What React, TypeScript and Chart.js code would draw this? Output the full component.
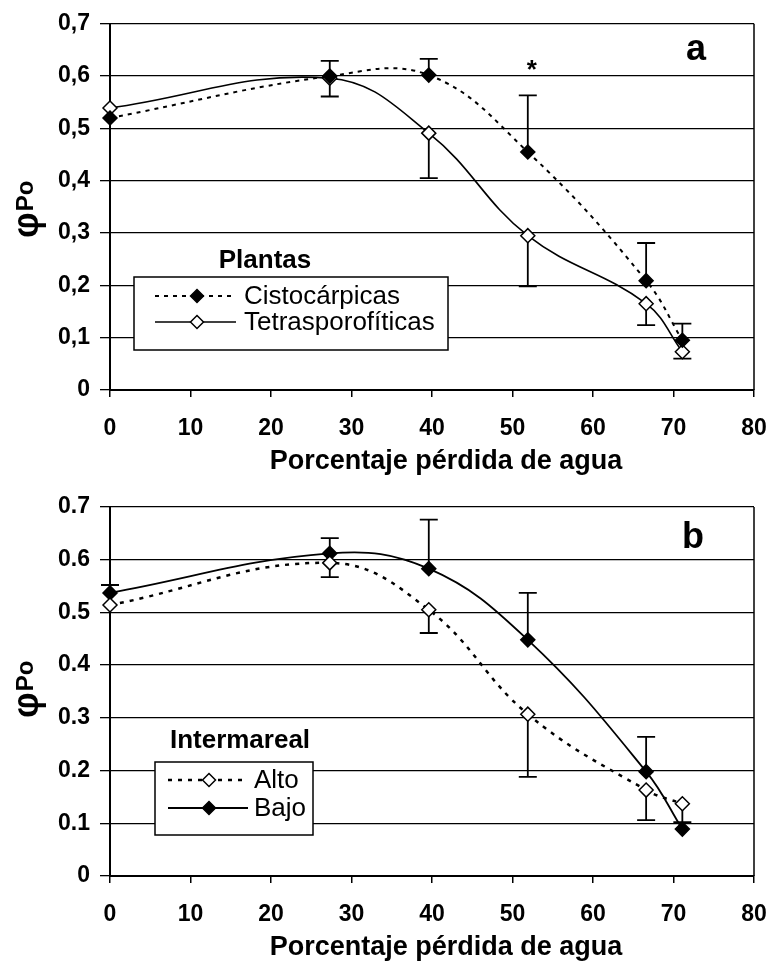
import React, { useEffect, useRef } from 'react';
import { Chart, registerables } from 'chart.js';

Chart.register(...registerables);

// ---------- data ----------
const xValues = [0, 27.3, 39.6, 51.9, 66.6, 71.1];

const cistoValues = [0.52, 0.6, 0.602, 0.455, 0.209, 0.095];
const cistoErr = [0, 0.029, 0.031, 0.108, 0.072, 0.032];
const tetraValues = [0.539, 0.596, 0.491, 0.295, 0.165, 0.073];
const tetraErr = [0, 0.035, 0.086, 0.097, 0.041, 0.013];

const altoValues = [0.514, 0.594, 0.505, 0.307, 0.163, 0.137];
const altoErr = [0, 0.027, 0.044, 0.119, 0.057, 0.035];
const bajoValues = [0.537, 0.612, 0.583, 0.448, 0.198, 0.089];
const bajoErr = [0.015, 0.029, 0.093, 0.089, 0.066, 0];

const xTicks = [0, 10, 20, 30, 40, 50, 60, 70, 80];
const yTicks = [0, 0.1, 0.2, 0.3, 0.4, 0.5, 0.6, 0.7];
const yLabelsA = ['0', '0,1', '0,2', '0,3', '0,4', '0,5', '0,6', '0,7'];
const yLabelsB = ['0', '0.1', '0.2', '0.3', '0.4', '0.5', '0.6', '0.7'];

const xTitle = 'Porcentaje pérdida de agua';
const legendTitleA = 'Plantas';
const legendTitleB = 'Intermareal';
const panelA = 'a';
const panelB = 'b';
const starX = 52.4;
const starY = 0.625;

const FONT = 'Arial, "Liberation Sans", sans-serif';

type Series = {
  label: string;
  values: number[];
  err: number[];
  dir: 'up' | 'down';
  filled: boolean;
  dash: number[];
  width: number;
};

function drawDiamond(ctx: CanvasRenderingContext2D, x: number, y: number, r: number, filled: boolean) {
  ctx.save();
  ctx.setLineDash([]);
  ctx.beginPath();
  ctx.moveTo(x, y - r);
  ctx.lineTo(x + r, y);
  ctx.lineTo(x, y + r);
  ctx.lineTo(x - r, y);
  ctx.closePath();
  ctx.fillStyle = filled ? '#000' : '#fff';
  ctx.fill();
  ctx.lineWidth = 1.5;
  ctx.strokeStyle = '#000';
  ctx.stroke();
  ctx.restore();
}

const errorBarPlugin = {
  id: 'errbars',
  beforeDatasetsDraw(chart: any) {
    const ctx = chart.ctx as CanvasRenderingContext2D;
    const ys = chart.scales.y;
    chart.data.datasets.forEach((ds: any, di: number) => {
      const meta = chart.getDatasetMeta(di);
      (ds.errors as number[]).forEach((e, i) => {
        if (!e) return;
        const pt = meta.data[i];
        const v = ds.data[i].y;
        const end = ds.errDir === 'up' ? v + e : v - e;
        const py = ys.getPixelForValue(end);
        ctx.save();
        ctx.setLineDash([]);
        ctx.strokeStyle = '#000';
        ctx.lineWidth = 1.8;
        ctx.beginPath();
        ctx.moveTo(pt.x, pt.y);
        ctx.lineTo(pt.x, py);
        ctx.moveTo(pt.x - 9, py);
        ctx.lineTo(pt.x + 9, py);
        ctx.stroke();
        ctx.restore();
      });
    });
  },
};

const framePlugin = {
  id: 'frame',
  beforeDatasetsDraw(chart: any) {
    const { ctx, chartArea } = chart;
    ctx.save();
    ctx.strokeStyle = '#000';
    ctx.lineWidth = 1.5;
    ctx.beginPath();
    ctx.moveTo(chartArea.right, chartArea.top);
    ctx.lineTo(chartArea.right, chartArea.bottom);
    ctx.stroke();
    ctx.restore();
  },
};

type Params = {
  series: Series[];
  yLabels: string[];
  areaTop: number;
  xAxisHeight: number;
  titleY: number;
  height: number;
  legend: {
    box: [number, number, number, number];
    title: string;
    titleX: number;
    titleY: number;
    rows: number[];
    lineX0: number;
    lineX1: number;
    markX: number;
    textX: number;
  };
  panel: string;
  panelX: number;
  panelY: number;
  star: boolean;
  phiX: number;
  phiY: number;
};

function makePlugins(p: Params) {
  const legendPlugin = {
    id: 'customLegend',
    afterDatasetsDraw(chart: any) {
      const ctx = chart.ctx as CanvasRenderingContext2D;
      const L = p.legend;
      const [x0, y0, x1, y1] = L.box;
      ctx.save();
      ctx.fillStyle = '#fff';
      ctx.fillRect(x0, y0, x1 - x0, y1 - y0);
      ctx.strokeStyle = '#000';
      ctx.lineWidth = 1.5;
      ctx.strokeRect(x0, y0, x1 - x0, y1 - y0);
      ctx.fillStyle = '#000';
      ctx.font = `bold 26px ${FONT}`;
      ctx.textAlign = 'center';
      ctx.textBaseline = 'alphabetic';
      ctx.fillText(L.title, L.titleX, L.titleY);
      chart.data.datasets.forEach((ds: any, i: number) => {
        const y = L.rows[i];
        ctx.save();
        ctx.strokeStyle = '#000';
        ctx.lineWidth = ds.borderWidth;
        ctx.setLineDash(ds.borderDash || []);
        ctx.beginPath();
        ctx.moveTo(L.lineX0, y);
        ctx.lineTo(L.lineX1, y);
        ctx.stroke();
        ctx.restore();
        drawDiamond(ctx, L.markX, y, 6.5, ds.filledMark);
        ctx.fillStyle = '#000';
        ctx.font = `26px ${FONT}`;
        ctx.textAlign = 'left';
        ctx.textBaseline = 'middle';
        ctx.fillText(ds.label, L.textX, y + 1);
      });
      ctx.restore();
    },
  };

  const textPlugin = {
    id: 'extraText',
    afterDraw(chart: any) {
      const ctx = chart.ctx as CanvasRenderingContext2D;
      ctx.save();
      ctx.fillStyle = '#000';
      ctx.font = `bold 36px ${FONT}`;
      ctx.textAlign = 'center';
      ctx.textBaseline = 'alphabetic';
      ctx.fillText(p.panel, p.panelX, p.panelY);
      if (p.star) {
        const sx = chart.scales.x.getPixelForValue(starX);
        const sy = chart.scales.y.getPixelForValue(starY);
        ctx.font = `bold 26px ${FONT}`;
        ctx.fillText('*', sx, sy + 15);
      }
      // x-axis title
      ctx.font = `bold 27px ${FONT}`;
      ctx.fillText(xTitle, 446, p.titleY);
      // y-axis title: φ with "Po"
      ctx.translate(p.phiX, p.phiY);
      ctx.rotate(-Math.PI / 2);
      ctx.textAlign = 'left';
      ctx.font = `bold 36px ${FONT}`;
      ctx.fillText('φ', 0, 0);
      const w = ctx.measureText('φ').width;
      ctx.font = `bold 24px ${FONT}`;
      ctx.fillText('Po', w + 1, -5);
      ctx.restore();
    },
  };
  return [errorBarPlugin, framePlugin, legendPlugin, textPlugin];
}

function makeConfig(p: Params): any {
  return {
    type: 'line',
    data: {
      datasets: p.series.map((s) => ({
        label: s.label,
        data: xValues.map((x, i) => ({ x, y: s.values[i] })),
        borderColor: '#000',
        borderWidth: s.width,
        borderDash: s.dash,
        pointStyle: 'rectRot',
        pointRadius: 7,
        pointBackgroundColor: s.filled ? '#000' : '#fff',
        pointBorderColor: '#000',
        pointBorderWidth: 1.5,
        tension: 0.4,
        fill: false,
        clip: false,
        errors: s.err,
        errDir: s.dir,
        filledMark: s.filled,
      })),
    },
    options: {
      responsive: false,
      animation: false,
      devicePixelRatio: 1,
      layout: { padding: { top: p.areaTop, right: 19, left: 0, bottom: 0 } },
      plugins: {
        legend: { display: false },
        tooltip: { enabled: false },
      },
      scales: {
        x: {
          type: 'linear',
          min: 0,
          max: 80,
          afterBuildTicks: (s: any) => {
            s.ticks = xTicks.map((v) => ({ value: v }));
          },
          afterFit: (s: any) => {
            s.height = p.xAxisHeight;
            s.paddingLeft = 0;
            s.paddingRight = 0;
          },
          grid: { drawOnChartArea: false, drawTicks: true, tickLength: 7, color: '#000', lineWidth: 1.5 },
          border: { display: true, color: '#000', width: 2 },
          ticks: {
            color: '#000',
            font: { family: FONT, size: 23, weight: 'bold' },
            padding: 18,
            maxRotation: 0,
            autoSkip: false,
            callback: (v: number, i: number) => String(xTicks[i]),
          },
          title: { display: false },
        },
        y: {
          type: 'linear',
          min: 0,
          max: 0.7,
          afterBuildTicks: (s: any) => {
            s.ticks = yTicks.map((v) => ({ value: v }));
          },
          afterFit: (s: any) => {
            s.width = 110;
          },
          grid: { color: '#000', lineWidth: 1.3, drawTicks: true, tickLength: 10 },
          border: { display: true, color: '#000', width: 2 },
          ticks: {
            color: '#000',
            font: { family: FONT, size: 23, weight: 'bold' },
            padding: 10,
            callback: (v: number, i: number) => p.yLabels[i],
          },
        },
      },
    },
    plugins: makePlugins(p),
  };
}

const paramsA: Params = {
  series: [
    { label: 'Cistocárpicas', values: cistoValues, err: cistoErr, dir: 'up', filled: true, dash: [4, 5], width: 2 },
    { label: 'Tetrasporofíticas', values: tetraValues, err: tetraErr, dir: 'down', filled: false, dash: [], width: 1.6 },
  ],
  yLabels: yLabelsA,
  areaTop: 22,
  xAxisHeight: 90,
  titleY: 469,
  height: 480,
  legend: {
    box: [134, 277, 448, 350],
    title: legendTitleA,
    titleX: 265,
    titleY: 268,
    rows: [296, 322],
    lineX0: 155,
    lineX1: 236,
    markX: 197,
    textX: 244,
  },
  panel: panelA,
  panelX: 696,
  panelY: 60,
  star: true,
  phiX: 38,
  phiY: 238,
};

const paramsB: Params = {
  series: [
    { label: 'Alto', values: altoValues, err: altoErr, dir: 'down', filled: false, dash: [4, 6], width: 2.5 },
    { label: 'Bajo', values: bajoValues, err: bajoErr, dir: 'up', filled: true, dash: [], width: 1.8 },
  ],
  yLabels: yLabelsB,
  areaTop: 27,
  xAxisHeight: 85,
  titleY: 475,
  height: 481,
  legend: {
    box: [155, 282, 313, 355],
    title: legendTitleB,
    titleX: 240,
    titleY: 268,
    rows: [300, 328],
    lineX0: 168,
    lineX1: 248,
    markX: 209,
    textX: 254,
  },
  panel: panelB,
  panelX: 693,
  panelY: 68,
  star: false,
  phiX: 38,
  phiY: 238,
};

function ChartCanvas({ params }: { params: Params }) {
  const ref = useRef<HTMLCanvasElement | null>(null);
  useEffect(() => {
    if (!ref.current) return;
    const chart = new Chart(ref.current, makeConfig(params));
    return () => chart.destroy();
  }, [params]);
  return (
    <canvas
      ref={ref}
      width={773}
      height={params.height}
      style={{ display: 'block', width: 773, height: params.height }}
    />
  );
}

export default function App() {
  return (
    <div style={{ position: 'absolute', left: 0, top: 0, width: 773, height: 961, background: '#fff' }}>
      <ChartCanvas params={paramsA} />
      <ChartCanvas params={paramsB} />
    </div>
  );
}
